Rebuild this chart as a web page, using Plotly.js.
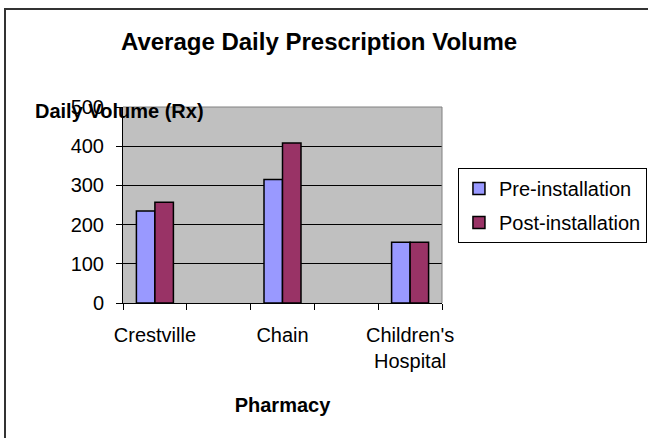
<!DOCTYPE html>
<html>
<head>
<meta charset="utf-8">
<script src="https://cdn.plot.ly/plotly-3.0.1.min.js"></script>
<style>
html,body{margin:0;padding:0;background:#fff;overflow:hidden;}
#wrap{position:relative;width:648px;height:438px;overflow:hidden;}
#chart{width:648px;height:438px;}
#frame{position:absolute;left:4px;top:8px;width:700px;height:500px;border-left:2px solid #333;border-top:2px solid #333;pointer-events:none;}
</style>
</head>
<body>
<div id="wrap"><div id="chart"></div><div id="frame"></div></div>
<script>
// Categories (spacer categories keep Excel's empty slots between pharmacies)
const categories = ["Crestville", " ", "Chain", "  ", "Children's<br>Hospital"];
const preInstallation = [235, null, 315, null, 155];
const postInstallation = [257, null, 408, null, 155];
const seriesNames = ["Pre-installation", "Post-installation"];
const yTickValues = [0, 100, 200, 300, 400, 500];

const FONT = "Liberation Sans, Arial, sans-serif";

const traces = [
  {
    type: "bar",
    name: seriesNames[0],
    x: categories,
    y: preInstallation,
    legendgroup: "a",
    marker: {color: "#9999FF", line: {color: "#000000", width: 1.5}},
    hoverinfo: "skip"
  },
  {
    type: "bar",
    name: seriesNames[1],
    x: categories,
    y: postInstallation,
    legendgroup: "b",
    marker: {color: "#993366", line: {color: "#000000", width: 1.5}},
    hoverinfo: "skip"
  }
];

const layout = {
  width: 648,
  height: 438,
  paper_bgcolor: "#ffffff",
  plot_bgcolor: "#C0C0C0",
  margin: {l: 123, r: 206, t: 107, b: 135, pad: 0, autoexpand: false},
  font: {family: FONT, size: 20, color: "#000000"},
  barmode: "group",
  bargap: 0.42,
  bargroupgap: 0,
  showlegend: true,
  title: {
    text: "<b>Average Daily Prescription Volume</b>",
    font: {family: FONT, size: 24, color: "#000000"},
    xref: "container", x: 0.4923, xanchor: "center",
    yref: "container", y: 0.906, yanchor: "middle"
  },
  xaxis: {
    type: "category",
    categoryorder: "array",
    categoryarray: categories,
    tickson: "boundaries",
    tickangle: 0,
    ticks: "outside",
    ticklen: 6,
    tickcolor: "#000000",
    tickwidth: 1,
    showline: true,
    linecolor: "#000000",
    linewidth: 1,
    showgrid: false,
    zeroline: false,
    ticklabelstandoff: 14,
    automargin: false,
    tickfont: {family: FONT, size: 20, color: "#000000"},
    title: {text: "<b>Pharmacy</b>", font: {family: FONT, size: 20, color: "#000000"}, standoff: 26},
    fixedrange: true
  },
  yaxis: {
    range: [0, 500],
    tickmode: "array",
    tickvals: yTickValues,
    ticks: "outside",
    ticklen: 6,
    tickcolor: "#000000",
    showline: true,
    linecolor: "#000000",
    linewidth: 1,
    showgrid: true,
    gridcolor: "#000000",
    gridwidth: 1,
    zeroline: false,
    automargin: false,
    ticklabelstandoff: 8,
    tickfont: {family: FONT, size: 20, color: "#000000"},
    fixedrange: true
  },
  legend: {
    x: 1.05, xanchor: "left",
    y: 0.689, yanchor: "top",
    bgcolor: "#ffffff",
    bordercolor: "#000000",
    borderwidth: 1,
    tracegroupgap: 5,
    font: {family: FONT, size: 20, color: "#000000"}
  },
  annotations: [
    {
      text: "<b>Daily Volume (Rx)</b>",
      xref: "paper", yref: "paper",
      x: -0.282, xanchor: "left",
      y: 0.98, yanchor: "middle",
      showarrow: false,
      font: {family: FONT, size: 20, color: "#000000"}
    }
  ],
  shapes: [
    // plot area border (top + right), gray
    {type: "line", xref: "paper", yref: "paper", x0: 0, x1: 1, y0: 1, y1: 1, line: {color: "#808080", width: 1}, layer: "above"},
    {type: "line", xref: "paper", yref: "paper", x0: 1, x1: 1, y0: 0, y1: 1, line: {color: "#808080", width: 1}, layer: "above"}
  ]
};

Plotly.newPlot("chart", traces, layout, {displayModeBar: false, staticPlot: true});
</script>
</body>
</html>
